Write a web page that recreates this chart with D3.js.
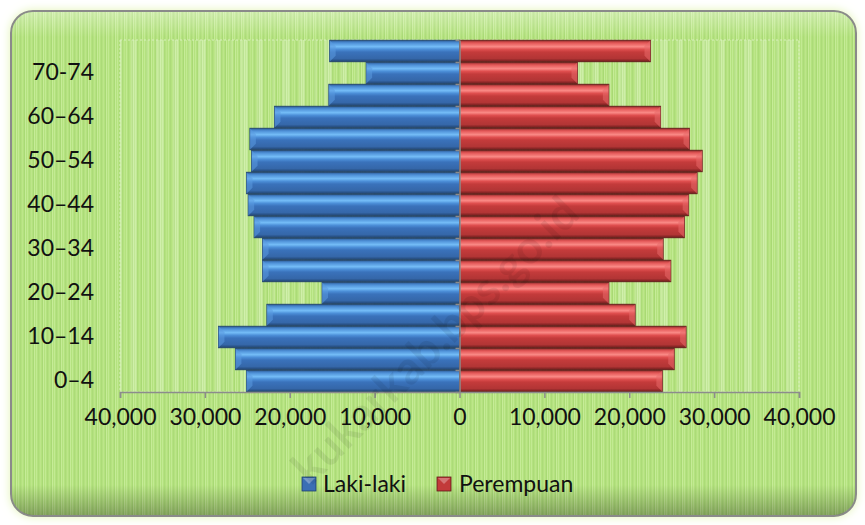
<!DOCTYPE html>
<html>
<head>
<meta charset="utf-8">
<script src="https://cdn.jsdelivr.net/npm/d3@7"></script>
<style>
  html, body { margin: 0; padding: 0; background: #ffffff; }
  svg { display: block; }
  text { font-family: Lato, "Open Sans", sans-serif; fill: #111; }
</style>
</head>
<body>
<svg id="chart" width="865" height="525"></svg>
<script>
// ---- data (bottom to top) ----
const categories = ["0–4","5–9","10–14","15–19","20–24","25–29","30–34","35–39",
                    "40–44","45–49","50–54","55–59","60–64","65–69","70-74","75+"];
const shownLabels = ["0–4","10–14","20–24","30–34","40–44","50–54","60–64","70-74"];
const lakiLaki  = [25100, 26400, 28400, 22700, 16200, 23200, 23200, 24200,
                   24900, 25100, 24500, 24700, 21800, 15400, 11000, 15300];
const perempuan = [23900, 25300, 26700, 20700, 17600, 24900, 24000, 26500,
                   27000, 28000, 28600, 27100, 23700, 17600, 13900, 22500];
const xTicks = [-40000,-30000,-20000,-10000,0,10000,20000,30000,40000];
const seriesNames = ["Laki-laki","Perempuan"];

const svg = d3.select("#chart");
const defs = svg.append("defs");

// glow filter
const glow = defs.append("filter").attr("id","glow").attr("x","-5%").attr("y","-5%").attr("width","110%").attr("height","110%");
glow.append("feGaussianBlur").attr("in","SourceAlpha").attr("stdDeviation",5).attr("result","b");
glow.append("feFlood").attr("flood-color","#e4f5b8").attr("result","c");
glow.append("feComposite").attr("in","c").attr("in2","b").attr("operator","in").attr("result","g");
const gm = glow.append("feMerge");
gm.append("feMergeNode").attr("in","g");
gm.append("feMergeNode").attr("in","SourceGraphic");

// stripe pattern for card
const pat = defs.append("pattern").attr("id","stripes").attr("patternUnits","userSpaceOnUse")
  .attr("width",9).attr("height",4);
pat.append("rect").attr("width",9).attr("height",4).attr("fill","#b4e27f");
[[0,1,"#c2ea92"],[2,1,"#acdb78"],[4,1,"#bde68a"],[6,1,"#a9d974"],[7,1,"#c6ec97"]].forEach(s=>{
  pat.append("rect").attr("x",s[0]).attr("width",s[1]).attr("height",4).attr("fill",s[2]);
});
const pat2 = defs.append("pattern").attr("id","stripes2").attr("patternUnits","userSpaceOnUse")
  .attr("width",42).attr("height",4);
pat2.append("rect").attr("width",42).attr("height",4).attr("fill","url(#stripes)");
[[5,6,0.18],[20,3,0.12],[30,8,0.2]].forEach(s=>{
  pat2.append("rect").attr("x",s[0]).attr("width",s[1]).attr("height",4).attr("fill","#ffffff").attr("opacity",s[2]);
});

// bar gradients
function barGrad(id, stops){
  const g = defs.append("linearGradient").attr("id",id).attr("x1",0).attr("y1",0).attr("x2",0).attr("y2",1);
  stops.forEach(s => g.append("stop").attr("offset",s[0]).attr("stop-color",s[1]));
}
barGrad("gBlue", [[0,"#2b5a96"],[0.12,"#4d8fd6"],[0.3,"#74bdf7"],[0.42,"#4c8fd8"],[0.55,"#3a72bb"],[0.85,"#3567a9"],[1,"#21446f"]]);
barGrad("gRed",  [[0,"#8e2a2a"],[0.12,"#e35656"],[0.3,"#fa8a86"],[0.42,"#e04f4f"],[0.55,"#c43b3b"],[0.85,"#b23535"],[1,"#6d1c1c"]]);
const colors = ["url(#gBlue)","url(#gRed)"];
const swatch = ["#3b6fb5","#c23a3a"];

// bottom shadow gradient for card
const sh = defs.append("linearGradient").attr("id","cardShade").attr("x1",0).attr("y1",0).attr("x2",0).attr("y2",1);
sh.append("stop").attr("offset",0).attr("stop-color","#ffffff").attr("stop-opacity",0.35);
sh.append("stop").attr("offset",0.05).attr("stop-color","#ffffff").attr("stop-opacity",0);
sh.append("stop").attr("offset",0.94).attr("stop-color","#000000").attr("stop-opacity",0);
sh.append("stop").attr("offset",1).attr("stop-color","#000000").attr("stop-opacity",0.28);

// card
svg.append("rect").attr("x",11).attr("y",11).attr("width",845).attr("height",505)
  .attr("rx",22).attr("fill","url(#stripes)").attr("stroke","#8a8a8a").attr("stroke-width",2)
  .attr("filter","url(#glow)");
svg.append("rect").attr("x",12).attr("y",12).attr("width",843).attr("height",503)
  .attr("rx",21).attr("fill","url(#cardShade)");

// scales
const x = d3.scaleLinear().domain([-40000,40000]).range([120,799]);
const y = d3.scaleBand().domain(categories.slice().reverse()).range([40,392]).paddingInner(0.02).paddingOuter(0.01);
const yIdx = d3.scaleLinear().domain([0,categories.length]).range([392,40]);

// plot area
svg.append("rect").attr("x",x.range()[0]).attr("y",40).attr("width",x.range()[1]-x.range()[0]).attr("height",352)
  .attr("fill","url(#stripes2)").attr("stroke","#d8efbd").attr("stroke-dasharray","2,2").attr("stroke-width",1);

// bars
const series = [lakiLaki, perempuan];
series.forEach((vals, si) => {
  const g = svg.append("g");
  const bars = g.selectAll("g").data(vals.map((v,i)=>({cat:categories[i], v: si===0 ? -v : v})))
    .join("g");
  bars.append("rect")
    .attr("x", d => Math.min(x(0), x(d.v)))
    .attr("y", d => y(d.cat))
    .attr("width", d => Math.abs(x(d.v) - x(0)))
    .attr("height", y.bandwidth())
    .attr("fill", colors[si])
    .attr("stroke", si===0 ? "#1f3f6a" : "#5e1818").attr("stroke-width",0.8);
  // bevel at the outer end
  bars.append("path").attr("d", d => {
    const xe = x(d.v), y0 = y(d.cat), h = y.bandwidth(), b = 6;
    const s = si===0 ? 1 : -1;
    return `M${xe},${y0} L${xe+s*b},${y0+b} L${xe+s*b},${y0+h-b} L${xe},${y0+h} Z`;
  }).attr("fill", si===0 ? "#5b9be0" : "#e86a6a").attr("opacity",0.55);
});

// zero (category) axis with ticks at band boundaries
svg.append("g").attr("transform",`translate(${x(0)},0)`)
  .call(d3.axisLeft(yIdx).ticks(16).tickValues(d3.range(0,17)).tickSize(4).tickSizeOuter(0).tickFormat(""))
  .call(g => g.selectAll("line,path").attr("stroke","#8c8c8c").attr("stroke-width",1.5));

// category labels
svg.append("g").attr("transform","translate(94,0)")
  .call(d3.axisLeft(y).tickValues(shownLabels).tickSize(0).tickPadding(0))
  .call(g => g.select(".domain").remove())
  .call(g => g.selectAll("text").attr("font-size",23).style("font-family","Lato, 'Open Sans', sans-serif").style("fill","#111"));

// value axis
svg.append("g").attr("transform","translate(0,392)")
  .call(d3.axisBottom(x).tickValues(xTicks).tickSize(6).tickSizeOuter(6).tickPadding(11)
        .tickFormat(d => d3.format(",")(Math.abs(d))))
  .call(g => g.selectAll("line,path").attr("stroke","#8c8c8c").attr("stroke-width",1.5))
  .call(g => g.selectAll("text").attr("font-size",23).style("font-family","Lato, 'Open Sans', sans-serif").style("fill","#111"));

// legend
const legend = svg.append("g");
const legendItems = [{name: seriesNames[0], x: 302, c: swatch[0], tx: 323},
                     {name: seriesNames[1], x: 437, c: swatch[1], tx: 459}];
legendItems.forEach(it => {
  legend.append("rect").attr("x",it.x).attr("y",477).attr("width",14).attr("height",14)
    .attr("fill",it.c).attr("stroke", it.c === swatch[0] ? "#1f3f6a" : "#5e1818").attr("stroke-width",0.8);
  legend.append("path").attr("d",`M${it.x+1},${478} L${it.x+7},${484} L${it.x+13},${478} Z`)
    .attr("fill","#ffffff").attr("opacity",0.3);
  legend.append("text").attr("x",it.tx).attr("y",484).attr("dy","0.35em")
    .attr("font-size",23).text(it.name);
});

// watermark (drawn over the chart, very faint)
svg.append("text").attr("transform","translate(435,340) rotate(-45)")
  .attr("text-anchor","middle").attr("dy","0.35em")
  .attr("font-size",46).attr("font-weight","bold").style("fill","#000").attr("opacity",0.07)
  .style("pointer-events","none")
  .text("kukarkab.bps.go.id");
</script>
</body>
</html>
